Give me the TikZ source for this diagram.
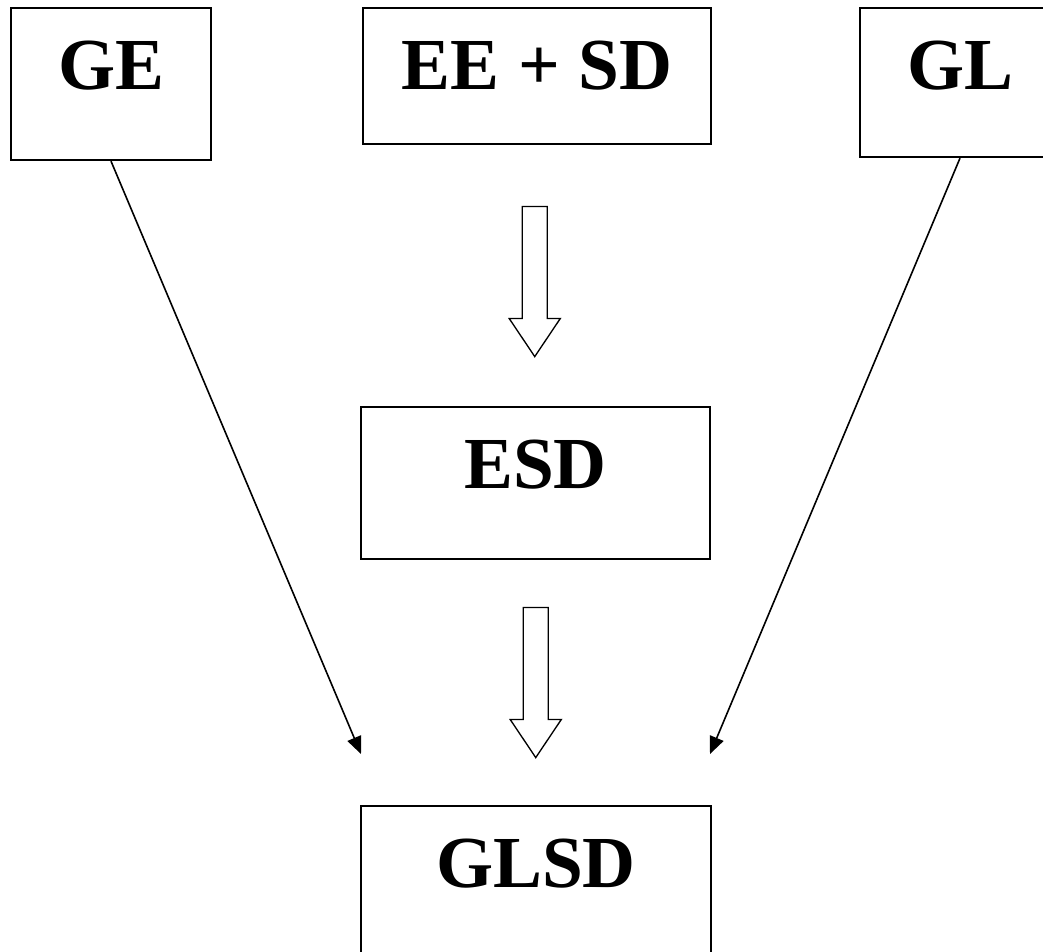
\documentclass[tikz,border=0pt]{standalone}
\usepackage{fontspec}
\setmainfont{Liberation Serif}
\usetikzlibrary{arrows.meta, calc}

\tikzset{
    downarrow/.pic={
        \draw[hollow] (-12.5,-75) -- (-12.5,37) -- (-25.5,37) -- (0,75)
            -- (25.5,37) -- (12.5,37) -- (12.5,-75) -- cycle;
    }
}

\begin{document}
\begin{tikzpicture}[
    x=0.75pt, y=-0.75pt,
    box/.style={draw, line width=1.6pt, anchor=north, inner sep=0pt, minimum width=#1,
        text height=61pt, text depth=53pt, font=\bfseries\fontsize{55}{60}\selectfont},
    arrow/.style={-{Triangle[length=13pt, width=11pt]}, line width=1.2pt},
    hollow/.style={line width=1pt, line join=miter}
]
\useasboundingbox (0,0) rectangle (1043,951);

\node[box=150pt] (ge) at (111,7) {GE};
\node[box=261pt, text depth=41pt] (eesd) at (537,7) {EE + SD};
\node[box=150pt, text depth=50.75pt] (gl) at (960,7) {GL};
\node[box=262pt] (esd) at (535.5,406) {ESD};
\node[box=262pt] (glsd) at (536,805) {GLSD};

% hollow arrows down the middle
\pic at ($(eesd.south)!0.5!(esd.north)+(-1.5,6)$) {downarrow};
\pic at ($(esd.south)!0.5!(glsd.north)$) {downarrow};

% side inputs
\coordinate (inL) at (361,754);
\coordinate (inR) at (710,754);
\draw[arrow] (ge.south) -- (inL);
\draw[arrow] (gl.south) -- (inR);
\end{tikzpicture}
\end{document}
